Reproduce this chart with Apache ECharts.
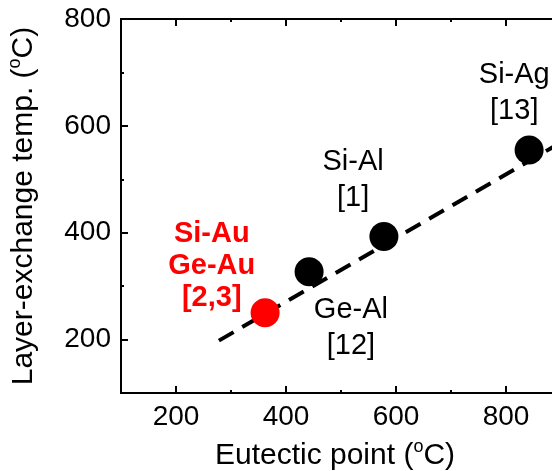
<!DOCTYPE html>
<html>
<head>
<meta charset="utf-8">
<script src="https://cdn.jsdelivr.net/npm/echarts@6/dist/echarts.min.js"></script>
<style>
  html, body { margin: 0; padding: 0; background: #fff; }
  #main { width: 552px; height: 471px; }
</style>
</head>
<body>
<div id="main"></div>
<script type="text/javascript">
// data
var eutectic = [842, 578, 442];          // Si-Ag, Si-Al, Ge-Al
var exchangeTemp = [555, 393, 327];
var auEutectic = [362];                 // Si-Au / Ge-Au
var auExchangeTemp = [250];
var fitX = [278, 900];
var fitY = [198, 569];

// annotation texts and where they sit (data units)
var labelText = ['Si-Ag\n[13]', 'Si-Al\n[1]', 'Ge-Al\n[12]'];
var labelX = [815, 522, 518];
var labelY = [662, 499, 222];
var auLabelText = ['Si-Au\nGe-Au\n[2,3]'];
var auLabelX = [265];
var auLabelY = [338];

var xMajor = [200, 400, 600, 800];
var xMinor = [300, 500, 700];
var yMajor = [200, 400, 600, 800];
var yMinor = [300, 500, 700];

var FONT = 'Liberation Sans';
var myChart = echarts.init(document.getElementById('main'));

function zip(xs, ys) {
    return xs.map(function (x, i) { return [x, ys[i]]; });
}
function labelPoints(xs, ys, texts) {
    return xs.map(function (x, i) { return { value: [x, ys[i]], name: texts[i] }; });
}

var line = { show: true, lineStyle: { color: '#000', width: 2 } };

function axis(dir, position, ticks, len, main) {
    var a = {
        type: 'value',
        position: position,
        min: 100,
        max: dir === 'x' ? 900 : 800,
        axisLine: line,
        splitLine: { show: false },
        axisTick: {
            show: true, inside: true, length: len,
            customValues: ticks,
            lineStyle: { color: '#000', width: 2 }
        },
        axisLabel: { show: false }
    };
    if (main) {
        a.axisLabel = {
            show: true, customValues: ticks,
            color: '#000', fontSize: 28, fontFamily: FONT, margin: 10
        };
    }
    return a;
}

var richName = {
    n: { fontSize: 30, fontFamily: FONT, color: '#000' },
    s: { fontSize: 18, fontFamily: FONT, color: '#000', padding: [0, 0, 17, 0] }
};

var xMain = axis('x', 'bottom', xMajor, 7, true);
xMain.name = '{n|Eutectic point (}{s|o}{n|C)}';
xMain.nameLocation = 'middle';
xMain.nameGap = 45;
xMain.nameTextStyle = { rich: richName, padding: [0, 12, 0, 0] };

var yMain = axis('y', 'left', yMajor, 7, true);
yMain.name = '{n|Layer-exchange temp. (}{s|o}{n|C)}';
yMain.nameLocation = 'middle';
yMain.nameGap = 80;
yMain.nameTextStyle = { rich: richName };

option = {
    animation: false,
    backgroundColor: '#fff',
    grid: {
        left: 121, top: 19, width: 440, bottom: 78,
        containLabel: false, outerBoundsMode: 'none'
    },
    xAxis: [
        xMain,
        axis('x', 'bottom', xMinor, 3, false),
        axis('x', 'top', xMajor, 7, false),
        axis('x', 'top', xMinor, 3, false)
    ],
    yAxis: [
        yMain,
        axis('y', 'left', yMinor, 3, false),
        axis('y', 'right', yMajor, 7, false),
        axis('y', 'right', yMinor, 3, false)
    ],
    series: [
        {
            name: 'fit',
            type: 'line',
            data: zip(fitX, fitY),
            symbol: 'none',
            lineStyle: { color: '#000', width: 4, type: [17, 10] },
            z: 1
        },
        {
            name: 'Al/Ag',
            type: 'scatter',
            data: zip(eutectic, exchangeTemp),
            symbolSize: 29,
            itemStyle: { color: '#000', opacity: 1 },
            z: 3
        },
        {
            name: 'Au',
            type: 'scatter',
            data: zip(auEutectic, auExchangeTemp),
            symbolSize: 29,
            itemStyle: { color: '#ff0000', opacity: 1 },
            z: 3
        },
        {
            name: 'labels',
            type: 'scatter',
            data: labelPoints(labelX, labelY, labelText),
            symbolSize: 0,
            silent: true,
            itemStyle: { opacity: 1 },
            label: {
                show: true, position: 'inside',
                formatter: '{b}',
                color: '#000', fontSize: 29, fontFamily: FONT,
                lineHeight: 36, align: 'center', verticalAlign: 'middle'
            }
        },
        {
            name: 'auLabels',
            type: 'scatter',
            data: labelPoints(auLabelX, auLabelY, auLabelText),
            symbolSize: 0,
            silent: true,
            itemStyle: { opacity: 1 },
            label: {
                show: true, position: 'inside',
                formatter: '{b}',
                color: '#ff0000', fontSize: 29, fontWeight: 'bold', fontFamily: FONT,
                lineHeight: 32, align: 'center', verticalAlign: 'middle'
            }
        }
    ]
};

myChart.setOption(option);
</script>
</body>
</html>
